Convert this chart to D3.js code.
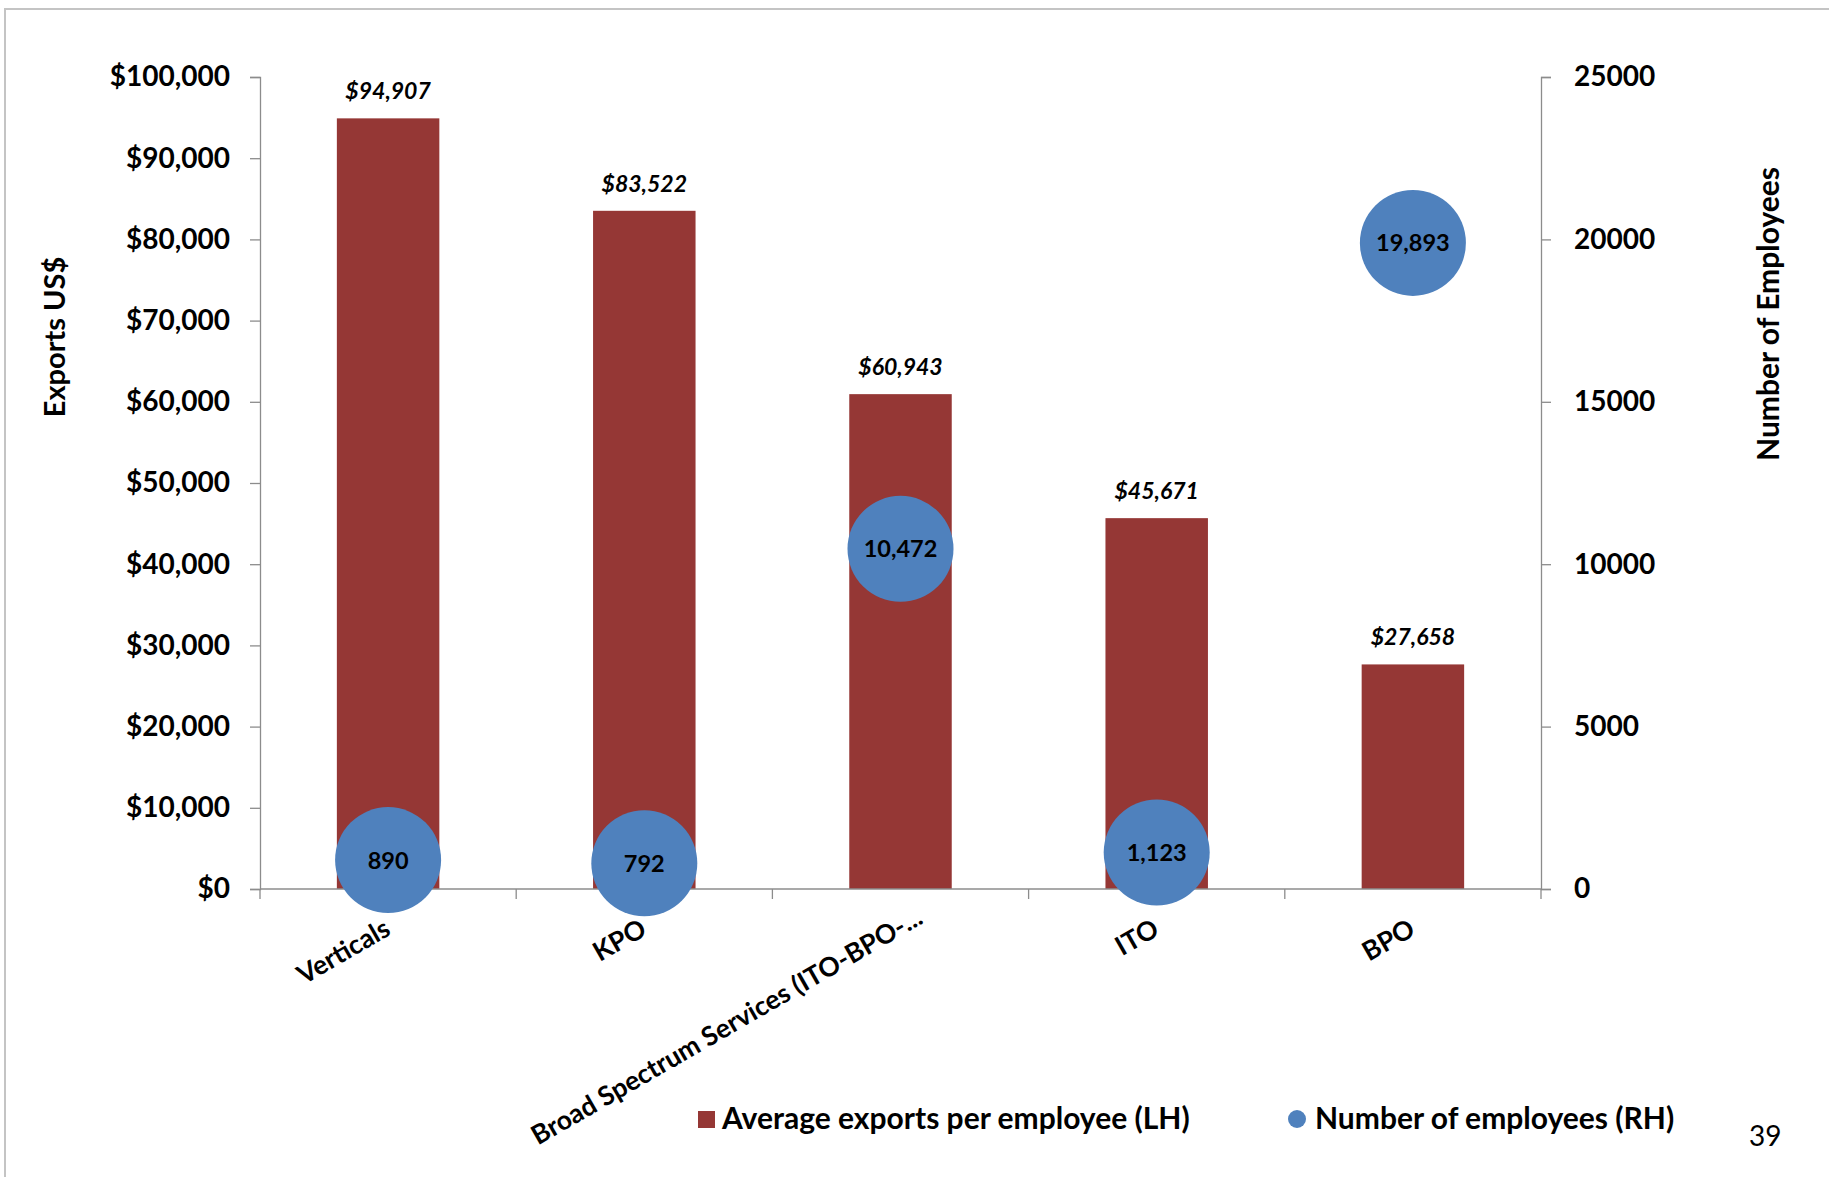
<!DOCTYPE html>
<html>
<head>
<meta charset="utf-8">
<script src="https://cdn.jsdelivr.net/npm/d3@7"></script>
<style>
  body { margin: 0; background: #fff; }
  text { font-family: Lato, "Open Sans", sans-serif; }
</style>
</head>
<body>
<div id="chart"></div>
<script>
// Data
var categories = ["Verticals", "KPO", "Broad Spectrum Services (ITO-BPO-...", "ITO", "BPO"];
var avgExports = [94907, 83522, 60943, 45671, 27658];
var employees = [890, 792, 10472, 1123, 19893];
var leftTicks = [0, 10000, 20000, 30000, 40000, 50000, 60000, 70000, 80000, 90000, 100000];
var rightTicks = [0, 5000, 10000, 15000, 20000, 25000];

var barColor = "#953735",
    dotColor = "#4F81BD",
    axisColor = "#8c8c8c";

// Set graph margins and dimensions
var W = 1829, H = 1177;
var margin = {top: 77, right: 288, bottom: 288, left: 260},
    width = W - margin.left - margin.right,
    height = H - margin.top - margin.bottom;

var svg = d3.select("#chart").append("svg")
    .attr("width", W)
    .attr("height", H);

// outer frame
svg.append("rect")
    .attr("x", 5).attr("y", 9)
    .attr("width", W + 20).attr("height", H + 20)
    .attr("fill", "none")
    .attr("stroke", "#c4c4c4")
    .attr("stroke-width", 2);

var g = svg.append("g")
    .attr("transform", "translate(" + margin.left + "," + margin.top + ")");

// Scales
var x = d3.scaleBand().domain(categories).range([0, width]).padding(0);
var yL = d3.scaleLinear().domain([0, 100000]).range([height, 0]);
var yR = d3.scaleLinear().domain([0, 25000]).range([height, 0]);
var barW = x.bandwidth() * 0.40;

// Left axis
var leftAxis = g.append("g")
    .call(d3.axisLeft(yL).tickValues(leftTicks).tickSize(10).tickPadding(20)
      .tickFormat(function(d) { return "$" + d3.format(",")(d); }));

// Right axis
var rightAxis = g.append("g")
    .attr("transform", "translate(" + width + ",0)")
    .call(d3.axisRight(yR).tickValues(rightTicks).tickSize(10).tickPadding(23)
      .tickFormat(d3.format("d")));

[leftAxis, rightAxis].forEach(function(a) {
  a.select(".domain").attr("stroke", axisColor).attr("stroke-width", 1.3);
  a.selectAll(".tick line").attr("stroke", axisColor).attr("stroke-width", 1.3);
  a.selectAll(".tick text")
    .attr("fill", "#000")
    .style("font-size", "28px")
    .style("font-weight", "bold");
});

// Bars
g.selectAll(".bar")
    .data(avgExports)
  .enter().append("rect")
    .attr("class", "bar")
    .attr("x", function(d, i) { return x(categories[i]) + (x.bandwidth() - barW) / 2; })
    .attr("width", barW)
    .attr("y", function(d) { return yL(d); })
    .attr("height", function(d) { return height - yL(d); })
    .attr("fill", barColor);

// Bar value labels
g.selectAll(".barlabel")
    .data(avgExports)
  .enter().append("text")
    .attr("class", "barlabel")
    .attr("x", function(d, i) { return x(categories[i]) + x.bandwidth() / 2; })
    .attr("y", function(d) { return yL(d) - 19; })
    .attr("text-anchor", "middle")
    .style("font-size", "23px")
    .style("font-weight", "bold")
    .style("font-style", "italic")
    .text(function(d) { return "$" + d3.format(",")(d); });

// Bottom axis line and boundary ticks
g.append("line")
    .attr("x1", 0).attr("x2", width)
    .attr("y1", height).attr("y2", height)
    .attr("stroke", axisColor).attr("stroke-width", 1.3);

var bounds = categories.map(function(c) { return x(c); }).concat([width]);
g.selectAll(".xtick")
    .data(bounds)
  .enter().append("line")
    .attr("class", "xtick")
    .attr("x1", function(d) { return d; }).attr("x2", function(d) { return d; })
    .attr("y1", height).attr("y2", height + 10)
    .attr("stroke", axisColor).attr("stroke-width", 1.3);

// Category labels, rotated (truncated label sits a little further along, like Excel)
g.selectAll(".xlabel")
    .data(categories)
  .enter().append("text")
    .attr("class", "xlabel")
    .attr("transform", function(d) {
      return "translate(" + (x(d) + x.bandwidth() / 2 + 4) + "," + (height + 45) + ") rotate(-30)";
    })
    .attr("dx", function(d) { return d.slice(-3) === "..." ? 23 : 0; })
    .attr("text-anchor", "end")
    .style("font-size", "26.5px")
    .style("font-weight", "bold")
    .text(function(d) { return d; });

// Employee dots
g.selectAll(".dot")
    .data(employees)
  .enter().append("circle")
    .attr("class", "dot")
    .attr("cx", function(d, i) { return x(categories[i]) + x.bandwidth() / 2; })
    .attr("cy", function(d) { return yR(d); })
    .attr("r", 53)
    .attr("fill", dotColor);

g.selectAll(".dotlabel")
    .data(employees)
  .enter().append("text")
    .attr("class", "dotlabel")
    .attr("x", function(d, i) { return x(categories[i]) + x.bandwidth() / 2; })
    .attr("y", function(d) { return yR(d); })
    .attr("dy", "0.36em")
    .attr("text-anchor", "middle")
    .style("font-size", "23.5px")
    .style("font-weight", "bold")
    .text(function(d) { return d3.format(",")(d); });

// Axis titles
svg.append("text")
    .attr("transform", "translate(65,337) rotate(-90)")
    .attr("text-anchor", "middle")
    .style("font-size", "29px")
    .style("font-weight", "bold")
    .text("Exports US$");

svg.append("text")
    .attr("transform", "translate(1779,314) rotate(-90)")
    .attr("text-anchor", "middle")
    .style("font-size", "30px")
    .style("font-weight", "bold")
    .text("Number of Employees");

// Legend
var legend = svg.append("g");
legend.append("rect")
    .attr("x", 698).attr("y", 1111)
    .attr("width", 17).attr("height", 17)
    .attr("fill", barColor);
legend.append("text")
    .attr("x", 722).attr("y", 1129)
    .style("font-size", "30px")
    .style("font-weight", "bold")
    .text("Average exports per employee (LH)");
legend.append("circle")
    .attr("cx", 1297).attr("cy", 1119).attr("r", 9)
    .attr("fill", dotColor);
legend.append("text")
    .attr("x", 1315).attr("y", 1129)
    .style("font-size", "30px")
    .style("font-weight", "bold")
    .text("Number of employees (RH)");

// page number
svg.append("text")
    .attr("x", 1749).attr("y", 1146)
    .style("font-size", "28px")
    .text("39");
</script>
</body>
</html>
